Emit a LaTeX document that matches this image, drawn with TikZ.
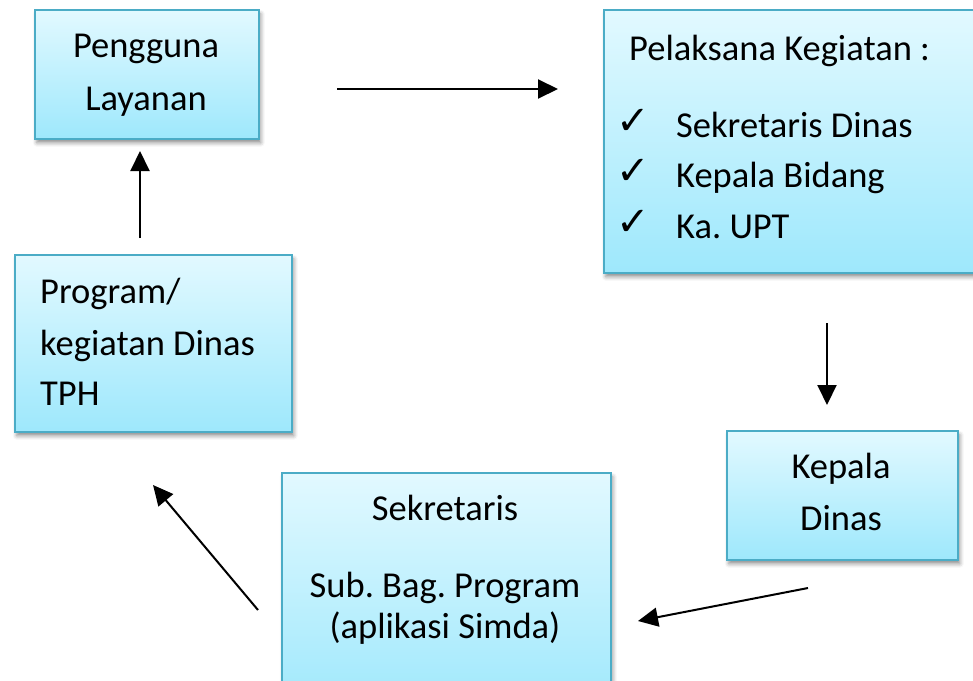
\documentclass[tikz,border=0pt]{standalone}
\usepackage{fontspec}
\setmainfont{Carlito}
\newfontfamily\symfont{DejaVu Sans}
\usetikzlibrary{arrows.meta,shadows.blur}
\definecolor{boxtop}{RGB}{226,249,255}
\definecolor{boxbot}{RGB}{158,232,252}
\definecolor{boxline}{RGB}{75,172,198}
\frenchspacing
\tikzset{
  box/.style={draw=boxline, line width=1.6pt, top color=boxtop, bottom color=boxbot,
    rectangle, inner sep=0pt, anchor=north west,
    blur shadow={shadow xshift=2pt, shadow yshift=-4pt, shadow blur radius=4pt, shadow opacity=45}},
  txt/.style={anchor=base, inner sep=0pt, font=\fontsize{36.5}{40}\selectfont},
  txtl/.style={anchor=base west, inner sep=0pt, font=\fontsize{36.5}{40}\selectfont},
  chk/.style={anchor=base west, inner sep=0pt, font=\symfont\fontsize{40}{44}\selectfont},
  arr/.style={line width=2pt, -{Triangle[length=20pt,width=19pt]}}
}
\begin{document}
\begin{tikzpicture}[x=1pt,y=-1pt]
\useasboundingbox (0,0) rectangle (973,680);
% boxes
\node[box, minimum width=224pt, minimum height=129pt] (pengguna) at (34,9) {};
\node[box, minimum width=390pt, minimum height=263pt] (pelaksana) at (603,9) {};
\node[box, minimum width=277pt, minimum height=177pt] (program) at (14,254) {};
\node[box, minimum width=231pt, minimum height=129pt] (kepala) at (726,430) {};
\node[box, minimum width=329pt, minimum height=240pt] (sekretaris) at (281,472) {};
% texts
\node[txt] (t1a) at (146,57) {Pengguna};
\node[txt] (t1b) at (146,110) {Layanan};
\node[txtl] (t2a) at (629,60) {Pelaksana Kegiatan :};
\node[chk] (c1) at (616,134) {✓};
\node[chk] (c2) at (616,184) {✓};
\node[chk] (c3) at (616,235) {✓};
\node[txtl] (t2b) at (676,137) {Sekretaris Dinas};
\node[txtl] (t2c) at (676,187) {Kepala Bidang};
\node[txtl] (t2d) at (676,238) {Ka. UPT};
\node[txtl] (t3a) at (40,303) {Program/};
\node[txtl] (t3b) at (40,355) {kegiatan Dinas};
\node[txtl] (t3c) at (40,405) {TPH};
\node[txt] (t4a) at (841,478) {Kepala};
\node[txt] (t4b) at (841,530) {Dinas};
\node[txt] (t5a) at (445,520) {Sekretaris};
\node[txt] (t5b) at (445,597) {Sub. Bag. Program};
\node[txt] (t5c) at (445,638) {(aplikasi Simda)};
% arrow end points
\coordinate (a1s) at (337,89);  \coordinate (a1e) at (558,89);
\coordinate (a2s) at (827,323); \coordinate (a2e) at (827,405);
\coordinate (a3s) at (808,588); \coordinate (a3e) at (638,621);
\coordinate (a4s) at (258,610); \coordinate (a4e) at (153,485);
\coordinate (a5s) at (140,238); \coordinate (a5e) at (140,151);
\draw[arr] (a1s) -- (a1e);
\draw[arr] (a2s) -- (a2e);
\draw[arr] (a3s) -- (a3e);
\draw[arr] (a4s) -- (a4e);
\draw[arr] (a5s) -- (a5e);
\end{tikzpicture}
\end{document}
